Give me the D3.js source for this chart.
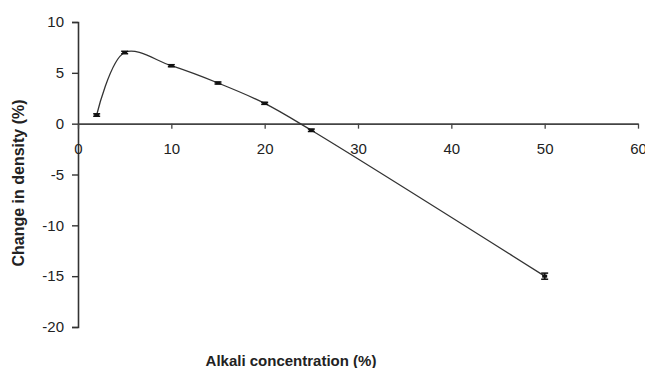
<!DOCTYPE html>
<html>
<head>
<meta charset="utf-8">
<script src="https://cdn.jsdelivr.net/npm/d3@7"></script>
<style>
    body { margin: 0; background: #fff; }
    text { font-family: "Liberation Sans", Arial, sans-serif; fill: #222; }
</style>
</head>
<body>
<svg id="chart" width="645" height="368"></svg>
<script>
// data
var concentration = [2, 5, 10, 15, 20, 25, 50];
var densityChange = [0.85, 7.0, 5.7, 4.0, 2.0, -0.65, -15.0];
var errorBar = [0.12, 0.12, 0.1, 0.1, 0.1, 0.12, 0.3];
var xTicks = [0, 10, 20, 30, 40, 50, 60];
var yTicks = [10, 5, 0, -5, -10, -15, -20];

var svg = d3.select("#chart");

// scales
var x = d3.scaleLinear().domain([0, 60]).range([78, 638]);
var y = d3.scaleLinear().domain([-20, 10]).range([327, 22]);

var points = concentration.map(function(c, i) {
    return {x: c, y: densityChange[i], e: errorBar[i]};
});

// plain hyphen for negatives, like the original
var fmt = function(d) { return String(d); };

// y axis
var yAxis = svg.append("g")
    .attr("transform", "translate(" + x(0) + ",0)")
    .call(d3.axisLeft(y).tickValues(yTicks).tickFormat(fmt).tickSize(6).tickPadding(8));
yAxis.select(".domain").attr("stroke", "#333").attr("stroke-width", 1.6);
yAxis.selectAll(".tick line").attr("stroke", "#333").attr("stroke-width", 1.4);
yAxis.selectAll("text").style("font-size", "15px").attr("fill", "#222");

// x axis at y = 0
var xAxis = svg.append("g")
    .attr("transform", "translate(0," + y(0) + ")")
    .call(d3.axisBottom(x).tickValues(xTicks).tickFormat(fmt).tickSize(5).tickSizeOuter(0).tickPadding(15));
xAxis.select(".domain").attr("stroke", "#444").attr("stroke-width", 1.6);
xAxis.selectAll(".tick line").attr("stroke", "#444").attr("stroke-width", 1.3);
xAxis.selectAll("text").style("font-size", "15px").attr("fill", "#222");

// smoothed line
var line = d3.line()
    .x(function(d) { return x(d.x); })
    .y(function(d) { return y(d.y); })
    .curve(d3.curveCatmullRom.alpha(0.5));

svg.append("path")
    .datum(points)
    .attr("d", line)
    .attr("fill", "none")
    .attr("stroke", "#333")
    .attr("stroke-width", 1.3);

// error bars
var bars = svg.append("g").selectAll("g")
    .data(points)
    .enter().append("g");

bars.append("line")
    .attr("x1", function(d) { return x(d.x); })
    .attr("x2", function(d) { return x(d.x); })
    .attr("y1", function(d) { return y(d.y + d.e); })
    .attr("y2", function(d) { return y(d.y - d.e); })
    .attr("stroke", "#111")
    .attr("stroke-width", 1.8);

bars.selectAll(".cap")
    .data(function(d) { return [d.y + d.e, d.y - d.e].map(function(v) { return {x: d.x, v: v}; }); })
    .enter().append("line")
    .attr("class", "cap")
    .attr("x1", function(d) { return x(d.x) - 3.5; })
    .attr("x2", function(d) { return x(d.x) + 3.5; })
    .attr("y1", function(d) { return y(d.v); })
    .attr("y2", function(d) { return y(d.v); })
    .attr("stroke", "#111")
    .attr("stroke-width", 1.5);

// small markers
bars.append("rect")
    .attr("x", function(d) { return x(d.x) - 2.5; })
    .attr("y", function(d) { return y(d.y) - 1.5; })
    .attr("width", 5)
    .attr("height", 3)
    .attr("fill", "#111");

// axis titles
svg.append("text")
    .attr("transform", "translate(24,183) rotate(-90)")
    .attr("text-anchor", "middle")
    .style("font-size", "16px")
    .style("font-weight", "bold")
    .text("Change in density (%)");

svg.append("text")
    .attr("x", 291)
    .attr("y", 366)
    .attr("text-anchor", "middle")
    .style("font-size", "15px")
    .style("font-weight", "bold")
    .text("Alkali concentration (%)");
</script>
</body>
</html>
